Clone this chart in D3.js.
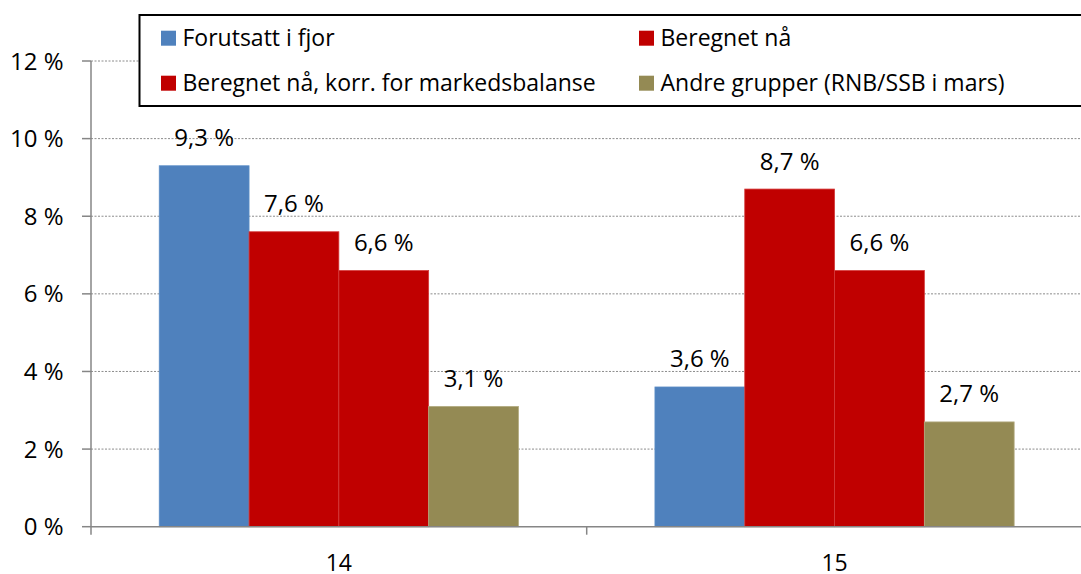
<!DOCTYPE html>
<html>
<head>
<meta charset="utf-8">
<script src="https://cdn.jsdelivr.net/npm/d3@7"></script>
<style>
  body { margin: 0; background: #fff; }
  svg { display: block; font-family: "Open Sans", sans-serif; }
</style>
</head>
<body>
<svg id="chart" width="1081" height="574"></svg>
<script>
'use strict'

// data
const categories = ['14', '15']
const seriesNames = [
  'Forutsatt i fjor',
  'Beregnet nå',
  'Beregnet nå, korr. for markedsbalanse',
  'Andre grupper (RNB/SSB i mars)'
]
const forutsatt = [9.3, 3.6]
const beregnet = [7.6, 8.7]
const korrigert = [6.6, 6.6]
const andre = [3.1, 2.7]
const yTicks = [0, 2, 4, 6, 8, 10, 12]

const seriesValues = [forutsatt, beregnet, korrigert, andre]
const colors = ['#4f81bd', '#c00000', '#c00000', '#948a54']
const strokes = ['#5b8cc6', '#d43a3a', '#d43a3a', '#b3ab80']

const svg = d3.select('#chart')
const margin = { left: 91, right: -1.4, top: 61, bottom: 47.3 }
const W = 1081, H = 574

const x = d3.scaleBand()
  .domain(categories)
  .range([margin.left, W - margin.right])

const xs = d3.scaleBand()
  .domain(d3.range(seriesNames.length))
  .range([0, x.bandwidth()])
  .paddingInner(0)
  .paddingOuter(0.76)

const y = d3.scaleLinear()
  .domain([0, 12])
  .range([H - margin.bottom, margin.top])

const fmt = v => String(v).replace('.', ',') + ' %'

// gridlines
svg.append('g')
  .selectAll('line')
  .data(yTicks.filter(d => d > 0))
  .enter()
  .append('line')
  .attr('x1', margin.left)
  .attr('x2', W)
  .attr('y1', d => y(d))
  .attr('y2', d => y(d))
  .attr('stroke', '#8c8c8c')
  .attr('stroke-width', 1)
  .attr('stroke-dasharray', '2,1.5')

// bars
const groups = svg.append('g')
  .selectAll('g')
  .data(categories)
  .enter()
  .append('g')
  .attr('transform', d => 'translate(' + x(d) + ',0)')

groups.selectAll('rect')
  .data((c, ci) => seriesValues.map((s, si) => ({ si: si, v: s[ci] })))
  .enter()
  .append('rect')
  .attr('x', d => xs(d.si))
  .attr('width', xs.bandwidth())
  .attr('y', d => y(d.v))
  .attr('height', d => y(0) - y(d.v))
  .attr('fill', d => colors[d.si])
  .attr('stroke', d => strokes[d.si])
  .attr('stroke-width', 0.8)

groups.selectAll('text')
  .data((c, ci) => seriesValues.map((s, si) => ({ si: si, v: s[ci] })))
  .enter()
  .append('text')
  .attr('x', d => xs(d.si) + xs.bandwidth() / 2)
  .attr('y', d => y(d.v) - 19.5)
  .attr('text-anchor', 'middle')
  .attr('font-size', '24px')
  .attr('fill', '#000')
  .text(d => fmt(d.v))

// y axis
const yAxis = svg.append('g')
yAxis.append('line')
  .attr('x1', margin.left).attr('x2', margin.left)
  .attr('y1', y(12)).attr('y2', y(0) + 8)
  .attr('stroke', '#868686')
  .attr('stroke-width', 1.5)
yAxis.selectAll('.tick')
  .data(yTicks)
  .enter()
  .append('line')
  .attr('x1', margin.left - 9).attr('x2', margin.left)
  .attr('y1', d => y(d)).attr('y2', d => y(d))
  .attr('stroke', '#868686')
  .attr('stroke-width', 1.5)
yAxis.selectAll('text')
  .data(yTicks)
  .enter()
  .append('text')
  .attr('x', 63.5)
  .attr('y', d => y(d))
  .attr('dy', '0.36em')
  .attr('text-anchor', 'end')
  .attr('font-size', '24px')
  .attr('fill', '#000')
  .text(d => d + ' %')

// x axis
const xAxis = svg.append('g')
xAxis.append('line')
  .attr('x1', margin.left).attr('x2', W)
  .attr('y1', y(0)).attr('y2', y(0))
  .attr('stroke', '#868686')
  .attr('stroke-width', 1.5)
xAxis.selectAll('.tick')
  .data(categories.slice(1))
  .enter()
  .append('line')
  .attr('x1', d => x(d)).attr('x2', d => x(d))
  .attr('y1', y(0)).attr('y2', y(0) + 8)
  .attr('stroke', '#868686')
  .attr('stroke-width', 1.5)
xAxis.selectAll('text')
  .data(categories)
  .enter()
  .append('text')
  .attr('x', d => x(d) + x.bandwidth() / 2)
  .attr('y', 570.5)
  .attr('text-anchor', 'middle')
  .attr('font-size', '23px')
  .attr('fill', '#000')
  .text(d => d)

// legend
const legend = svg.append('g')
legend.append('rect')
  .attr('x', 139.5)
  .attr('y', 15)
  .attr('width', 960)
  .attr('height', 91)
  .attr('fill', '#fff')
  .attr('stroke', '#000')
  .attr('stroke-width', 2)

const legendX = [161, 639]
const legendBase = [45.7, 90.7]
seriesNames.forEach((name, i) => {
  const lx = legendX[i % 2]
  const ly = legendBase[Math.floor(i / 2)]
  legend.append('rect')
    .attr('x', lx)
    .attr('y', ly - 15)
    .attr('width', 15)
    .attr('height', 15)
    .attr('fill', colors[i])
  legend.append('text')
    .attr('x', lx + 21.5)
    .attr('y', ly)
    .attr('font-size', '23px')
    .attr('fill', '#000')
    .text(name)
})
</script>
</body>
</html>
